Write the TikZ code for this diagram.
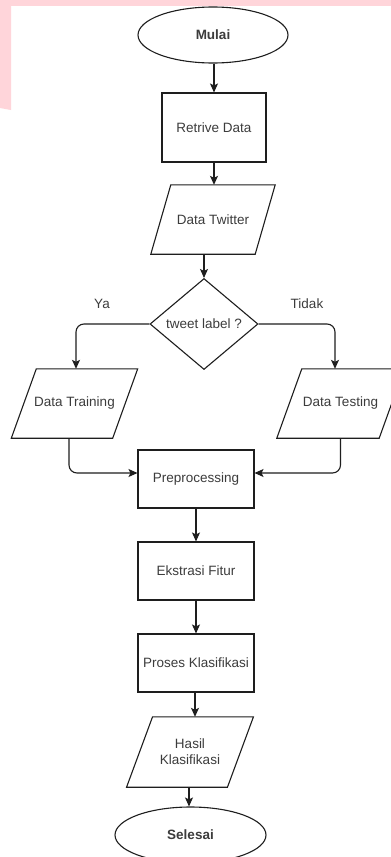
\documentclass[tikz,border=0pt]{standalone}
\usepackage{fontspec}
\setmainfont{Liberation Sans}
\usetikzlibrary{shapes.geometric,arrows.meta,calc}
\definecolor{pinkbg}{RGB}{255,213,218}
\definecolor{linec}{RGB}{30,30,30}
\definecolor{txtc}{RGB}{60,60,60}
\begin{document}
\begin{tikzpicture}[x=1pt,y=-1pt,
  every node/.style={font=\fontsize{13.5}{16}\selectfont, text=txtc},
  base/.style={draw=linec, line width=1.1pt, inner sep=0pt},
  term/.style={base, ellipse, minimum width=150pt, minimum height=56pt, font=\fontsize{13.5}{16}\selectfont\bfseries},
  proc/.style={base, rectangle, minimum width=116pt, minimum height=58pt},
  iobox/.style={rectangle, inner sep=0pt, minimum height=69pt, align=center},
  dec/.style={base, diamond, minimum width=108pt, minimum height=91pt},
  conn/.style={draw=linec, line width=1.1pt, -{Stealth[length=9pt,width=8pt,inset=2pt]}},
  edge/.style={draw=linec, line width=1.1pt, line join=miter}
]
\useasboundingbox (0,0) rectangle (391,857);
\clip (0,0) rectangle (391,857);
\fill[white] (0,0) rectangle (391,857);
\fill[pinkbg] (0,0) rectangle (391,6);
\fill[pinkbg] (0,0) -- (11,0) -- (11,110) -- (0,108) -- cycle;

% nodes
\node[term] (mulai) at (213,35) {Mulai};
\node[proc, minimum width=104pt, minimum height=69pt] (ret) at (214,127.5) {Retrive Data};
\node[iobox, minimum width=104pt] (tw) at (213,219.5) {Data Twitter};
\node[dec] (dia) at (204,324) {tweet label ?};
\node[iobox, minimum width=101pt] (train) at (74.5,403.5) {Data Training};
\node[iobox, minimum width=102pt] (test) at (340.5,403.5) {Data Testing};
\node[proc] (prep) at (196,479) {Preprocessing};
\node[proc] (eks) at (196,571) {Ekstrasi Fitur};
\node[proc] (pros) at (196,663) {Proses Klasifikasi};
\node[iobox, minimum width=100.5pt, minimum height=70pt] (hasil) at (190,752) {Hasil\\Klasifikasi};
\node[term, minimum width=151pt] (sel) at (190.5,835) {Selesai};

\node (ya) at (102,304) {Ya};
\node (tidak) at (307,304) {Tidak};

% parallelogram outlines
\draw[edge] ([xshift=10pt]tw.north west) -- ([xshift=10pt]tw.north east) -- ([xshift=-10pt]tw.south east) -- ([xshift=-10pt]tw.south west) -- cycle;
\draw[edge] ([xshift=12.5pt]train.north west) -- ([xshift=12.5pt]train.north east) -- ([xshift=-12.5pt]train.south east) -- ([xshift=-12.5pt]train.south west) -- cycle;
\draw[edge] ([xshift=12.5pt]test.north west) -- ([xshift=12.5pt]test.north east) -- ([xshift=-12.5pt]test.south east) -- ([xshift=-12.5pt]test.south west) -- cycle;
\draw[edge] ([xshift=13pt]hasil.north west) -- ([xshift=13pt]hasil.north east) -- ([xshift=-13pt]hasil.south east) -- ([xshift=-13pt]hasil.south west) -- cycle;

% connectors
\draw[conn] (mulai.south -| ret.north) -- (ret.north);
\draw[conn] (ret.south) -- (ret.south |- tw.north);
\draw[conn] (dia.north |- tw.south) -- (dia.north);
\draw[conn, rounded corners=8pt] (dia.west) -| ([xshift=1.5pt]train.north);
\draw[conn, rounded corners=8pt] (dia.east) -| ([xshift=-5.5pt]test.north);
\draw[conn, rounded corners=8pt] ([xshift=-5.5pt]train.south) |- ([yshift=6pt]prep.west);
\draw[conn, rounded corners=8pt] (test.south) |- ([yshift=6pt]prep.east);
\draw[conn] (prep.south) -- (eks.north);
\draw[conn] (eks.south) -- (pros.north);
\draw[conn] ([xshift=-1pt]pros.south) -- ([xshift=-1pt]pros.south |- hasil.north);
\draw[conn] ([xshift=-1pt]hasil.south) -- ([xshift=-1pt]hasil.south |- sel.north);
\end{tikzpicture}
\end{document}
